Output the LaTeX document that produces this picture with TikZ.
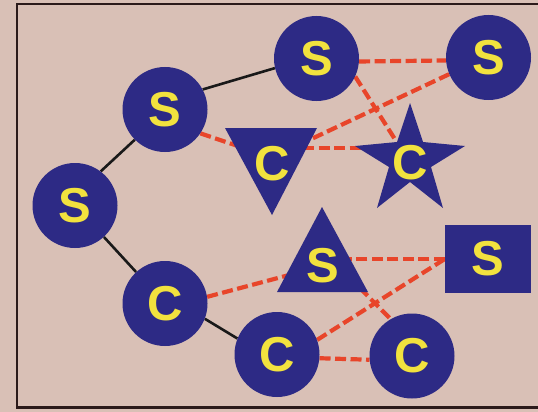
\documentclass[tikz,border=0pt]{standalone}
\usepackage{fontspec}
\setmainfont{Liberation Sans}
\usetikzlibrary{calc}
\pgfdeclarelayer{bg}
\pgfdeclarelayer{edges}
\pgfsetlayers{bg,edges,main}
\definecolor{bgpink}{HTML}{D9C0B6}
\definecolor{nblue}{HTML}{2D2A85}
\definecolor{lyellow}{HTML}{F2E23E}
\definecolor{dred}{HTML}{E8452A}
\definecolor{framec}{HTML}{2B1A1A}
\begin{document}
\begin{tikzpicture}[x=1pt,y=-1pt,
  lbl/.style={text=lyellow,font=\fontsize{49}{49}\selectfont\bfseries,inner sep=0pt},
  circ/.style={lbl,circle,fill=nblue,minimum size=85pt},
  sqr/.style={lbl,rectangle,fill=nblue,minimum width=86pt,minimum height=68pt},
  solidedge/.style={black!90,line width=2.6pt},
  dashedge/.style={dred,line width=4.2pt,dash pattern=on 11pt off 4.5pt},
  shapefill/.style={fill=nblue}]
\useasboundingbox (0,0) rectangle (538,412);
\begin{pgfonlayer}{bg}
\fill[bgpink] (0,0) rectangle (538,412);
\draw[framec,line width=2.8pt] (545,4) -- (17,4) -- (17,407.5) -- (545,407.5);
\end{pgfonlayer}
% shapes without node outline
\fill[shapefill] (225,128) -- (317,128) -- (272,215) -- cycle;
\fill[shapefill] (277,292) -- (368,292) -- (322,207) -- cycle;
\fill[shapefill] (410,103) -- (423,142) -- (465,146) -- (431,167) -- (443,208) -- (410,182) -- (377,208) -- (389,167) -- (355,146) -- (397,142) -- cycle;
% nodes
\node[circ] (s1) at (316.5,58.5) {S};
\node[circ] (s2) at (488.5,57.5) {S};
\node[circ] (s3) at (165,109.5) {S};
\node[circ] (s4) at (75,205.5) {S};
\node[lbl] (cdown) at (272,163.5) {C};
\node[lbl] (cstar) at (410,163) {C};
\node[lbl] (sup) at (323,266) {S};
\node[sqr] (sq) at (488,259) {S};
\node[circ] (cl) at (165,303.5) {C};
\node[circ] (cbm) at (277,354.5) {C};
\node[circ] (cbr) at (412,356) {C};
\begin{pgfonlayer}{edges}
\draw[solidedge] (s4.53) -- (s3.225);
\draw[solidedge] (s3.28) -- (s1.193);
\draw[solidedge] (s4) -- (cl);
\draw[solidedge] (cl.-21) -- (cbm.158);
\draw[dashedge] (s1.-4) -- (s2.184);
\draw[dashedge] (s1.-25) -- (cstar);
\draw[dashedge] (s2.203) -- ($(cdown)+(0,-6)$);
\draw[dashedge] (s3.-34) -- ($(cdown)+(0,-6)$);
\draw[dashedge] ($(cdown)+(0,-15.5)$) -- ($(cstar)+(0,-15)$);
\draw[dashedge] (cl.9) -- (sup);
\draw[dashedge] (sq.west) -- (sq.west -| sup);
\draw[dashedge] ($(sup)+(15,0)$) -- (cbr.120);
\draw[dashedge] (cbm.20) -- (sq.west);
\draw[dashedge] (cbm.-5) -- (cbr.185);
\end{pgfonlayer}
\end{tikzpicture}
\end{document}
